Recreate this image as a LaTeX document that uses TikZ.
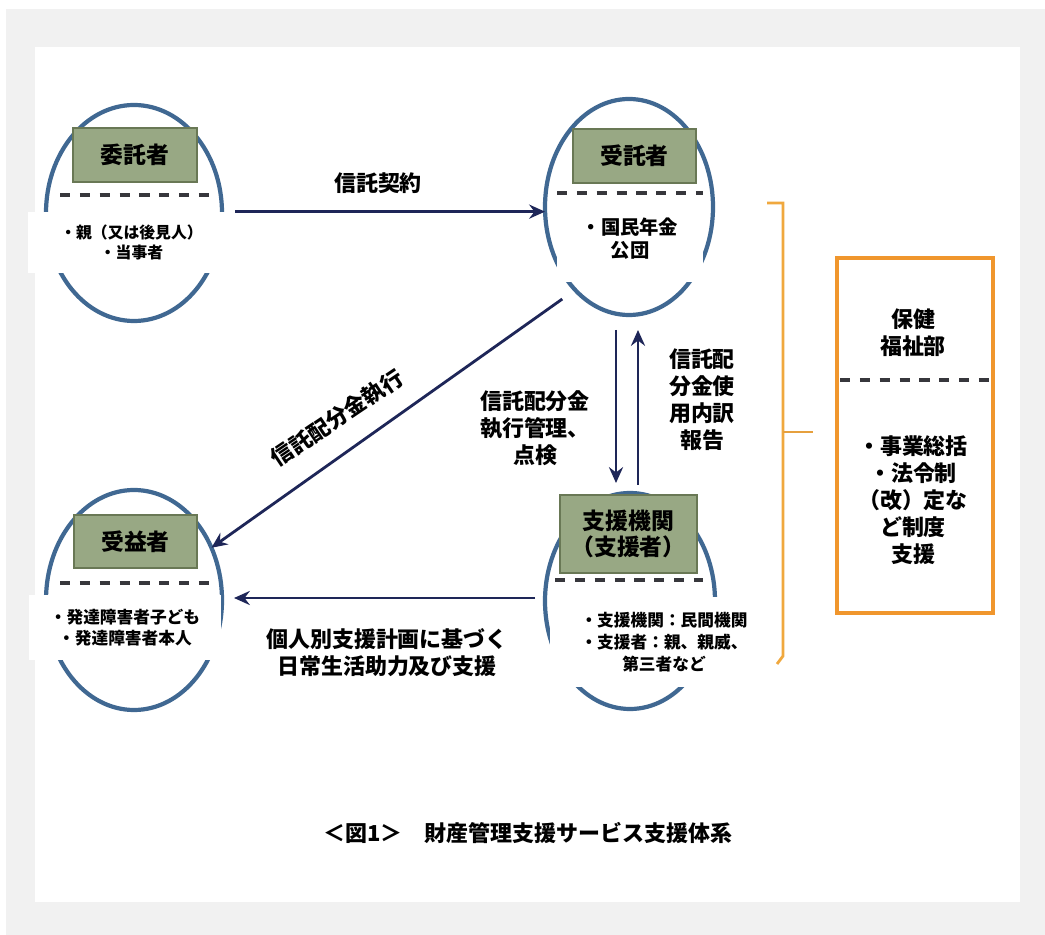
\documentclass[tikz,border=0pt]{standalone}
\usepackage{fontspec}
\setmainfont{Noto Sans CJK JP}
\usetikzlibrary{shapes.geometric,arrows.meta,calc}
\newcommand\PX{0.02cm}
\definecolor{bordergray}{RGB}{241,241,241}
\definecolor{ellblue}{RGB}{64,104,146}
\definecolor{labfill}{RGB}{152,168,132}
\definecolor{labdraw}{RGB}{105,120,85}
\definecolor{navy}{RGB}{30,38,88}
\definecolor{orangeb}{RGB}{240,150,45}
\definecolor{orangel}{RGB}{240,168,62}
\definecolor{dashgray}{RGB}{55,55,60}
\begin{document}
\begin{tikzpicture}[x=0.02cm,y=-0.02cm,
  ell/.style={ellipse, draw=ellblue, line width=2.4pt, inner sep=0pt, outer sep=0pt},
  labbox/.style={rectangle, fill=labfill, draw=labdraw, line width=0.9pt, inner sep=0pt,
    font=\fontsize{13}{14.5}\selectfont\bfseries, align=center},
  whitebox/.style={rectangle, fill=white, inner sep=0pt, align=center,
    font=\fontsize{9}{11.3}\selectfont\bfseries},
  sepdash/.style={draw=dashgray, line width=1.9pt, dash pattern=on 5.8pt off 5.5pt},
  arr/.style={draw=navy, line width=1.6pt, -{Stealth[length=9pt,width=8pt,inset=3pt]}},
  lbl/.style={font=\fontsize{12.5}{15.3}\selectfont\bfseries, align=center, inner sep=0pt},
]
\useasboundingbox (0,0) rectangle (1045,935);
\fill[white] (0,0) rectangle (1045,935);
\fill[bordergray] (6,9) rectangle (1045,935);
\fill[white] (35,47) rectangle (1020,902);

% ellipses
\node[ell, minimum width=176*\PX, minimum height=216*\PX] (e1) at (134,213) {};
\node[ell, minimum width=168*\PX, minimum height=216*\PX] (e2) at (629,207) {};
\node[ell, minimum width=176*\PX, minimum height=220*\PX] (e3) at (134,600) {};
\node[ell, minimum width=170*\PX, minimum height=216*\PX] (e4) at (630,601) {};

% white text boxes
\node[whitebox, minimum width=207*\PX, minimum height=61*\PX] (w1) at (131.5,242.5)
  {・親（又は後見人）\\・当事者};
\node[whitebox, minimum width=146*\PX, minimum height=86*\PX,
  font=\fontsize{11}{13}\selectfont\bfseries] (w2) at (630,239) {・国民年金\\公団};
\node[whitebox, minimum width=192*\PX, minimum height=65*\PX,
  font=\fontsize{9.5}{12}\selectfont\bfseries] (w3) at (125,627.5)
  {・発達障害者子ども\\・発達障害者本人};
\node[whitebox, minimum width=228*\PX, minimum height=90*\PX,
  font=\fontsize{9.5}{12.5}\selectfont\bfseries] (w4) at (664,642)
  {・支援機関：民間機関\\・支援者：親、親威、\\第三者など};

% label boxes
\node[labbox, minimum width=124*\PX, minimum height=54*\PX] (l1) at (135,155) {委託者};
\node[labbox, minimum width=123*\PX, minimum height=54*\PX] (l2) at (634.5,156) {受託者};
\node[labbox, minimum width=123*\PX, minimum height=53*\PX] (l3) at (135.5,541.5) {受益者};
\node[labbox, minimum width=137*\PX, minimum height=78*\PX] (l4) at (628.5,534) {支援機関\\（支援者）};

% dashed separators
\draw[sepdash] (60,195) -- (212,195);
\draw[sepdash] (557,193) -- (703,193);
\draw[sepdash] (60,583) -- (210,583);
\draw[sepdash] (555,580) -- (703,580);

% orange side box
\draw[orangel, line width=1.6pt] (767,203) -- (783,203) -- (783,656) -- (777,664);
\draw[orangel!80!brown, line width=1pt] (783,432) -- (813,432);
\node[rectangle, draw=orangeb, line width=2.4pt, fill=white, minimum width=156*\PX,
  minimum height=355*\PX, inner sep=0pt] (ob) at (915,435.5) {};
\draw[sepdash] (840,380) -- (990,380);
\node[lbl] (t1) at (913,333) {保健\\福祉部};
\node[lbl] (t2) at (913,500) {・事業総括\\・法令制\\（改）定な\\ど制度\\支援};

% connectors
\draw[arr] (w1.north east) -- (w1.north east -| e2.west);
\draw[arr, shorten <=9pt] (e2.-123) -- (e3.34);
\draw[arr] ($(e2.south)+(-13,15)$) -- ($(e4.north)+(-14,-10)$);
\draw[arr] ($(e4.north)+(8,-8)$) -- ($(e2.south)+(9,15)$);
\draw[arr] ($(e4.west)+(-10,-3)$) -- ($(e3.east)+(12,-2)$);

% connector labels
\node[lbl] (c1) at (378,183) {信託契約};
\node[lbl, rotate=34] (c2) at (337,418) {信託配分金執行};
\node[lbl] (c3) at (535,428) {信託配分金\\執行管理、\\点検};
\node[lbl] (c4) at (702,400) {信託配\\分金使\\用内訳\\報告};
\node[lbl] (c5) at (387,653) {個人別支援計画に基づく\\日常生活助力及び支援};

% caption
\node[lbl] (cap) at (528,833) {＜図1＞　財産管理支援サービス支援体系};
\end{tikzpicture}
\end{document}
